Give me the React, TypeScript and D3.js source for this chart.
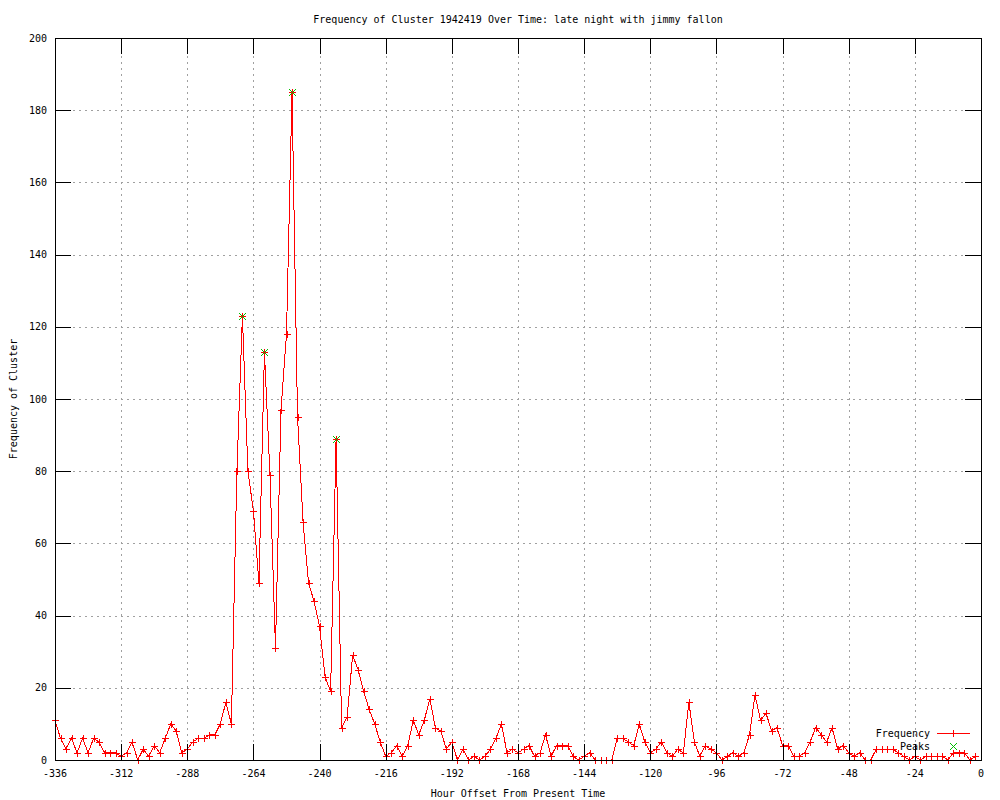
import React from "react";
import * as d3 from "d3";

const W = 1000;
const H = 800;

const title = "Frequency of Cluster 1942419 Over Time: late night with jimmy fallon";
const xLabel = "Hour Offset From Present Time";
const yLabel = "Frequency of Cluster";

const startHour = -336;
const stepHours = 2;

const frequency = [
  11, 6, 3, 6, 2, 6, 2, 6, 5, 2, 2, 2, 1, 2, 5, 0, 3, 1, 4, 2,
  6, 10, 8, 2, 3, 5, 6, 6, 7, 7, 10, 16, 10, 80, 123, 80, 69, 49, 113, 79,
  31, 97, 118, 185, 95, 66, 49, 44, 37, 23, 19, 89, 9, 12, 29, 25, 19, 14, 10, 5,
  1, 2, 4, 1, 4, 11, 7, 11, 17, 9, 8, 3, 5, 0, 3, 0, 1, 0, 1, 3,
  6, 10, 2, 3, 2, 3, 4, 1, 2, 7, 1, 4, 4, 4, 1, 0, 1, 2, 0, 0,
  0, 0, 6, 6, 5, 4, 10, 5, 2, 3, 5, 2, 1, 3, 2, 16, 5, 1, 4, 3,
  2, 0, 1, 2, 1, 2, 7, 18, 11, 13, 8, 9, 4, 4, 1, 1, 2, 5, 9, 7,
  5, 9, 3, 4, 2, 1, 2, 0, 0, 3, 3, 3, 3, 2, 1, 0, 1, 0, 1, 1,
  1, 1, 0, 2, 2, 2, 0, 1,
];

const peakHours = [-268, -260, -250, -234];
const peakValues = [123, 113, 185, 89];

const xTicks = [-336, -312, -288, -264, -240, -216, -192, -168, -144, -120, -96, -72, -48, -24, 0];
const yTicks = [0, 20, 40, 60, 80, 100, 120, 140, 160, 180, 200];

const FONT = "'DejaVu Sans Mono', monospace";

export default function App() {
  const left = 55, right = 981, top = 38, bottom = 760;
  const x = d3.scaleLinear().domain([-336, 0]).range([left, right]);
  const y = d3.scaleLinear().domain([0, 200]).range([bottom, top]);

  const pts = frequency.map((v, i) => ({ h: startHour + stepHours * i, v }));
  const line = d3.line<{ h: number; v: number }>().x((d) => x(d.h)).y((d) => y(d.v));

  const snap = (n: number) => Math.round(n) + 0.5;
  const plus = (cx: number, cy: number, r = 3.5) => {
    const a = snap(cx), b = snap(cy);
    return `M${a - r},${b}H${a + r}M${a},${b - r}V${b + r}`;
  };
  const cross = (cx: number, cy: number, r = 3.5) => {
    const a = snap(cx), b = snap(cy);
    return `M${a - r},${b - r}L${a + r},${b + r}M${a - r},${b + r}L${a + r},${b - r}`;
  };

  const tickLen = 16;

  return (
    <svg
      width={W}
      height={H}
      style={{ position: "absolute", left: 0, top: 0, background: "#fff" }}
      fontFamily={FONT}
      fontSize={10}
    >
      <rect x={0} y={0} width={W} height={H} fill="#fff" />
      {/* grid */}
      <g stroke="#a0a0a0" strokeDasharray="2,4" shapeRendering="crispEdges">
        {xTicks.filter((t) => t !== -336 && t !== 0).map((t) => (
          <line key={"gx" + t} x1={snap(x(t))} x2={snap(x(t))} y1={top} y2={bottom} />
        ))}
        {yTicks.filter((t) => t !== 0 && t !== 200).map((t) => (
          <line key={"gy" + t} x1={left} x2={right} y1={snap(y(t))} y2={snap(y(t))} />
        ))}
      </g>
      {/* data line */}
      <path d={line(pts) || ""} fill="none" stroke="#ff0000" strokeWidth={1} shapeRendering="crispEdges" />
      <path
        d={pts.map((p) => plus(x(p.h), y(p.v))).join("")}
        fill="none"
        stroke="#ff0000"
        strokeWidth={1}
        shapeRendering="crispEdges"
      />
      {/* peaks */}
      <path
        d={peakHours.map((h, i) => cross(x(h), y(peakValues[i]))).join("")}
        fill="none"
        stroke="#00c000"
        strokeWidth={1}
        shapeRendering="crispEdges"
      />
      {/* border */}
      <rect
        x={left + 0.5}
        y={top + 0.5}
        width={right - left}
        height={bottom - top}
        fill="none"
        stroke="#000"
        shapeRendering="crispEdges"
      />
      {/* ticks */}
      <g stroke="#000" shapeRendering="crispEdges">
        {xTicks.map((t) => (
          <g key={"tx" + t}>
            <line x1={snap(x(t))} x2={snap(x(t))} y1={bottom} y2={bottom - tickLen} />
            <line x1={snap(x(t))} x2={snap(x(t))} y1={top} y2={top + tickLen} />
          </g>
        ))}
        {yTicks.map((t) => (
          <g key={"ty" + t}>
            <line x1={left} x2={left + tickLen} y1={snap(y(t))} y2={snap(y(t))} />
            <line x1={right} x2={right - tickLen} y1={snap(y(t))} y2={snap(y(t))} />
          </g>
        ))}
      </g>
      {/* tick labels */}
      <g fill="#000">
        {xTicks.map((t) => (
          <text key={"lx" + t} x={x(t)} y={773} textAnchor="middle" dominantBaseline="central">
            {t}
          </text>
        ))}
        {yTicks.map((t) => (
          <text key={"ly" + t} x={47} y={y(t)} textAnchor="end" dominantBaseline="central">
            {t}
          </text>
        ))}
      </g>
      {/* titles */}
      <text x={518} y={19} textAnchor="middle" dominantBaseline="central">
        {title}
      </text>
      <text x={518} y={793} textAnchor="middle" dominantBaseline="central">
        {xLabel}
      </text>
      <text
        transform={`translate(13,${(top + bottom) / 2}) rotate(-90)`}
        textAnchor="middle"
        dominantBaseline="central"
      >
        {yLabel}
      </text>
      {/* legend */}
      <text x={930} y={733} textAnchor="end" dominantBaseline="central">
        Frequency
      </text>
      <line x1={937} x2={970} y1={733.5} y2={733.5} stroke="#ff0000" shapeRendering="crispEdges" />
      <path d={plus(953, 733)} stroke="#ff0000" fill="none" shapeRendering="crispEdges" />
      <text x={930} y={746} textAnchor="end" dominantBaseline="central">
        Peaks
      </text>
      <path d={cross(953, 746)} stroke="#00c000" fill="none" shapeRendering="crispEdges" />
    </svg>
  );
}
